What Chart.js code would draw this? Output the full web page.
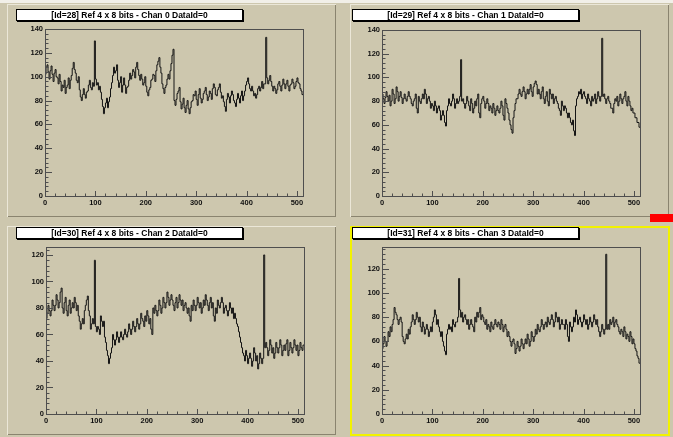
<!DOCTYPE html>
<html lang="en">
<head>
  <meta charset="UTF-8" />
  <title>Ref 4 x 8 bits</title>
  <script src="https://cdn.jsdelivr.net/npm/chart.js"></script>
  <style>
    body { margin: 0; width: 673px; height: 437px; background: #cdc7ae; position: relative; overflow: hidden;
           font-family: "Liberation Sans", Arial, sans-serif; }
    .topband { position: absolute; left: 0; top: 0; width: 673px; height: 3px; background: #f1efe8; }
    .pad { position: absolute; box-shadow: inset 1px 1px 0 #ebe7d8, inset -1px -1px 0 #8a846f; }
    .pad canvas { position: absolute; left: 0; top: 0; }
    .title { position: absolute; box-sizing: border-box; background: #fff; border: 1px solid #000;
             box-shadow: 1px 1px 0 #000; font-weight: bold; font-size: 8.5px; line-height: 10px;
             text-align: center; white-space: nowrap; color: #000; }
    .active { position: absolute; box-sizing: border-box; border: 2px solid #f2f200; pointer-events: none; }
    .marker { position: absolute; left: 650px; top: 214px; width: 23px; height: 8px; background: #ff0000; }
  </style>
</head>
<body>
  <div class="topband"></div>

  <!-- pads -->
  <div class="pad" style="left:7px; top:4px; width:329px; height:213px;">
    <canvas id="chan0" width="329" height="213"></canvas>
  </div>
  <div class="pad" style="left:350px; top:4px; width:319px; height:213px;">
    <canvas id="chan1" width="319" height="213"></canvas>
  </div>
  <div class="pad" style="left:7px; top:226px; width:329px; height:209px;">
    <canvas id="chan2" width="329" height="209"></canvas>
  </div>
  <div class="pad" style="left:350px; top:226px; width:319px; height:209px;">
    <canvas id="chan3" width="319" height="209"></canvas>
  </div>
  <div class="active" style="left:350px; top:226px; width:320px; height:210px;"></div>

  <!-- titles -->
  <div class="title" style="left:16px; top:9px; width:227px; height:12px;">[Id=28] Ref 4 x 8 bits - Chan 0 DataId=0</div>
  <div class="title" style="left:352px; top:9px; width:227px; height:12px;">[Id=29] Ref 4 x 8 bits - Chan 1 DataId=0</div>
  <div class="title" style="left:16px; top:227px; width:227px; height:12px;">[Id=30] Ref 4 x 8 bits - Chan 2 DataId=0</div>
  <div class="title" style="left:352px; top:227px; width:227px; height:12px;">[Id=31] Ref 4 x 8 bits - Chan 3 DataId=0</div>

  <div class="marker"></div>

  <script>
    // each value covers 2 adc bins (512 bins per channel), 32 values per line
    const BIN_W = 2;
    const xTicks = [0, 100, 200, 300, 400, 500];
    const yTicksTop = [0, 20, 40, 60, 80, 100, 120, 140];
    const yTicksBottom = [0, 20, 40, 60, 80, 100, 120];

    const chan0 = [
      102,108,110,104,98,105,109,102,96,103,106,100,99,94,102,96,88,93,91,97,86,91,93,99,90,97,101,107,112,106,103,97,
      95,100,89,83,80,85,90,85,82,87,88,93,97,91,89,95,92,130,98,93,95,89,92,87,81,75,69,74,78,82,74,79,
      83,90,95,101,108,103,105,110,97,91,95,100,87,93,99,93,86,91,92,97,103,98,101,106,104,99,108,112,106,101,97,102,
      98,93,95,100,92,87,84,89,91,97,98,102,101,96,105,110,113,116,108,103,94,90,86,91,93,98,102,98,105,111,118,123,
      80,76,81,86,88,91,79,73,77,82,74,70,76,80,73,69,74,79,80,85,84,88,81,76,85,90,82,78,81,86,88,91,
      85,80,83,88,86,81,90,94,91,85,84,89,91,94,87,82,84,79,75,71,81,86,83,78,84,88,85,80,78,75,81,86,
      82,78,84,88,80,84,88,93,96,99,94,90,88,92,88,84,86,82,85,90,92,88,91,96,90,94,94,133,99,94,97,101,
      96,92,88,92,90,86,89,94,96,92,88,93,98,94,90,94,97,92,88,93,94,98,95,90,92,96,99,95,94,90,88,85
    ];
    const chan1 = [
      86,82,78,83,88,84,80,85,76,80,90,86,78,82,92,88,80,84,88,83,78,82,86,82,80,84,88,84,82,78,76,80,
      82,86,74,70,84,80,78,82,86,82,90,86,78,82,84,80,74,78,76,72,80,76,70,74,76,72,64,68,72,68,62,59,
      72,76,82,78,76,80,86,82,74,78,82,78,80,84,115,80,82,78,74,78,84,80,76,72,82,78,70,74,80,76,82,86,
      70,66,78,82,84,80,74,78,82,78,72,76,74,70,78,74,68,72,76,72,70,74,80,76,68,64,82,78,74,70,64,60,
      56,53,66,72,78,82,82,86,90,86,84,88,92,88,82,86,90,86,90,94,88,84,92,95,97,94,86,90,86,82,88,92,
      82,78,84,88,80,76,90,86,82,86,78,82,84,80,78,74,72,68,80,76,72,76,74,70,66,70,66,62,60,64,55,51,
      76,82,84,88,86,90,82,86,88,84,82,78,86,82,80,76,84,80,82,86,78,82,88,84,80,84,133,84,86,82,78,82,
      84,80,78,74,74,70,78,82,80,84,76,80,86,82,78,82,84,88,80,76,84,80,76,72,74,70,70,66,66,62,62,58
    ];
    const chan2 = [
      72,76,82,78,74,78,86,82,78,82,90,86,80,84,92,95,80,76,84,88,78,74,82,86,76,80,84,80,88,84,78,82,
      74,70,64,68,72,68,78,82,86,89,78,74,64,68,72,68,116,66,62,66,64,60,74,70,66,70,58,54,48,44,38,42,
      46,50,60,56,52,56,62,58,54,58,62,58,56,60,64,60,58,62,68,64,60,64,70,66,62,66,72,68,64,68,76,72,
      70,66,74,70,78,74,68,72,64,60,80,76,82,78,74,78,86,82,76,80,88,84,80,84,92,88,82,86,90,86,82,78,
      84,88,80,84,90,86,82,86,78,82,84,80,76,80,74,70,82,78,86,82,78,82,88,84,80,84,76,80,86,82,90,86,
      82,78,84,88,80,84,74,70,80,76,86,82,80,84,88,84,76,80,82,78,74,78,84,80,76,80,72,76,72,68,66,62,
      58,54,50,46,44,40,48,44,38,42,46,42,36,40,50,46,40,44,34,38,46,42,38,42,120,50,54,50,44,48,56,52,
      46,50,42,46,54,50,46,50,56,52,44,48,52,48,53,56,44,48,54,50,46,50,56,52,48,52,44,48,54,50,48,52
    ];
    const chan3 = [
      54,58,64,60,56,60,68,64,72,68,74,78,88,84,82,78,74,78,80,76,64,60,58,62,66,62,70,66,72,76,82,78,
      74,78,84,80,76,80,72,68,76,72,66,70,74,70,64,68,72,68,76,80,86,82,74,78,72,68,64,68,60,56,52,49,
      66,70,74,70,72,68,78,74,72,76,76,80,112,86,80,84,76,80,82,78,74,78,70,74,78,74,72,68,80,76,84,80,
      84,88,78,82,80,76,74,78,70,74,72,68,76,72,70,74,78,74,72,76,74,70,78,74,68,72,74,70,64,68,64,60,
      56,60,62,58,50,54,60,56,52,56,62,58,54,58,62,58,66,62,56,60,68,64,60,64,70,66,74,70,68,72,78,74,
      70,74,76,72,80,76,74,78,82,78,72,76,84,80,76,80,70,74,78,74,74,70,78,74,64,60,76,72,68,72,80,76,
      86,82,74,78,80,76,72,76,82,78,74,78,70,74,80,76,72,76,82,78,74,78,72,68,64,68,74,70,66,70,132,70,
      74,70,78,74,76,80,72,76,78,74,72,68,66,70,68,64,72,68,62,66,64,60,68,64,58,62,58,54,52,48,46,42
    ];

    const tickFont = { family: '"Liberation Sans", Arial, sans-serif', size: 7.5, weight: 'bold' };

    // ROOT style frame with inside ticks, drawn from the chart scales
    const framePlugin = {
      id: 'frame',
      afterDraw(chart) {
        const { ctx, chartArea: a, scales: { x, y } } = chart;
        ctx.save();
        ctx.strokeStyle = '#4e4e4e';
        ctx.lineWidth = 1;
        ctx.beginPath();
        const xs = x.ticks.map(t => t.value);
        const xMinor = (xs[1] - xs[0]) / 5;
        for (let v = 0; v <= x.max; v += xMinor) {
          const px = Math.round(x.getPixelForValue(v)) + 0.5;
          const len = (v % (xs[1] - xs[0]) === 0) ? 5 : 2.5;
          ctx.moveTo(px, a.bottom);
          ctx.lineTo(px, a.bottom - len);
        }
        const ys = y.ticks.map(t => t.value);
        const yMinor = (ys[1] - ys[0]) / 5;
        for (let v = 0; v <= y.max; v += yMinor) {
          const py = Math.round(y.getPixelForValue(v)) + 0.5;
          const len = (v % (ys[1] - ys[0]) === 0) ? 7 : 3.5;
          ctx.moveTo(a.left, py);
          ctx.lineTo(a.left + len, py);
        }
        ctx.stroke();
        ctx.strokeRect(Math.round(a.left) + 0.5, Math.round(a.top) + 0.5,
                       Math.round(a.right - a.left), Math.round(a.bottom - a.top));
        ctx.restore();
      }
    };

    function drawChannel(id, values, yMax, yTicks, box) {
      const points = values.map((v, i) => ({ x: i * BIN_W, y: v }));
      points.push({ x: values.length * BIN_W, y: values[values.length - 1] });

      new Chart(document.getElementById(id), {
        type: 'line',
        data: {
          datasets: [{
            data: points,
            stepped: true,
            borderColor: '#141414',
            borderWidth: 1,
            pointRadius: 0,
            fill: false
          }]
        },
        options: {
          responsive: false,
          animation: false,
          layout: { padding: { left: 0, top: box.top, right: box.right, bottom: 0 } },
          plugins: { legend: { display: false }, tooltip: { enabled: false } },
          scales: {
            x: {
              type: 'linear', min: 0, max: 512,
              afterBuildTicks: s => { s.ticks = xTicks.map(v => ({ value: v })); },
              afterFit: s => { s.height = 21; },
              grid: { display: false, drawTicks: false },
              border: { display: false },
              ticks: { font: tickFont, color: '#111', padding: 2, maxRotation: 0, autoSkip: false }
            },
            y: {
              type: 'linear', min: 0, max: yMax,
              afterBuildTicks: s => { s.ticks = yTicks.map(v => ({ value: v })); },
              afterFit: s => { s.width = box.left; },
              grid: { display: false, drawTicks: false },
              border: { display: false },
              ticks: { font: tickFont, color: '#111', padding: 2, autoSkip: false }
            }
          }
        },
        plugins: [framePlugin]
      });
    }

    drawChannel('chan0', chan0, 140, yTicksTop,    { left: 38, top: 25, right: 33 });
    drawChannel('chan1', chan1, 140, yTicksTop,    { left: 32, top: 26, right: 29 });
    drawChannel('chan2', chan2, 126, yTicksBottom, { left: 39, top: 21, right: 32 });
    drawChannel('chan3', chan3, 138, yTicksBottom, { left: 32, top: 21, right: 29 });
  </script>
</body>
</html>
